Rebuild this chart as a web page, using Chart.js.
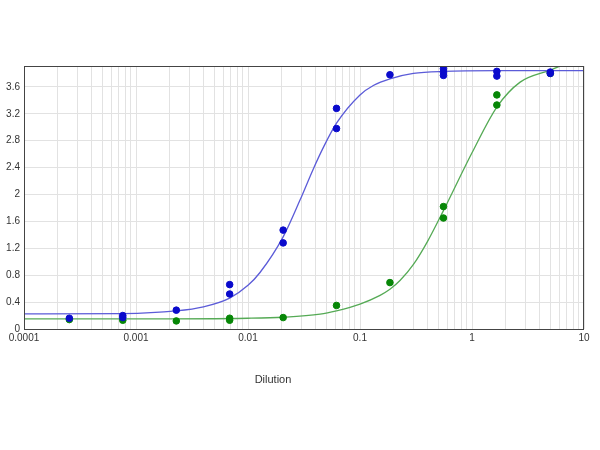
<!DOCTYPE html>
<html>
<head>
<meta charset="utf-8">
<script src="https://cdn.jsdelivr.net/npm/chart.js@4"></script>
<style>
html,body{margin:0;padding:0;background:#fff;}
#wrap{width:600px;height:450px;position:relative;}
</style>
</head>
<body>
<div id="wrap"><canvas id="c" width="600" height="450"></canvas></div>
<script>
// ---- tick labels ----
const xTickLabels = ['0.0001', '0.001', '0.01', '0.1', '1', '10'];
const yTickLabels = ['0', '0.4', '0.8', '1.2', '1.6', '2', '2.4', '2.8', '3.2', '3.6'];
const xAxisTitle = 'Dilution';

// ---- measured points (blue series) ----
const blueDilution = [0.000254, 0.000762, 0.000762, 0.00229, 0.00686, 0.00686, 0.0206, 0.0206, 0.0617, 0.0617, 0.185, 0.556, 0.556, 0.556, 1.667, 1.667, 5, 5];
const blueOD       = [0.16,     0.20,     0.17,     0.28,    0.66,    0.52,    1.47,   1.28,   3.28,   2.98,   3.78,  3.87,  3.82,  3.77,  3.83,  3.76,  3.82, 3.80];

// ---- measured points (green series) ----
const greenDilution = [0.000254, 0.000762, 0.00229, 0.00686, 0.00686, 0.0206, 0.0617, 0.185, 0.556, 0.556, 1.667, 1.667, 5];
const greenOD       = [0.14,     0.13,     0.12,    0.16,    0.13,    0.17,   0.35,   0.69,  1.82,  1.65,  3.48,  3.33,  3.80];

// ---- fitted curves ----
const blueFitDilution = [0.0001, 0.000762, 0.00229, 0.004, 0.00686, 0.01, 0.0128, 0.0206, 0.0292, 0.0383, 0.0471, 0.0617, 0.1, 0.1315, 0.185, 0.3, 0.556, 1.667, 10];
const blueFitOD       = [0.225,  0.23,     0.27,    0.33,  0.46,    0.65, 0.84,   1.37,   1.92,   2.38,   2.70,   3.06,   3.48, 3.62,   3.72,  3.80, 3.83, 3.84,  3.84];

const greenFitDilution = [0.0001, 0.001, 0.01, 0.0206, 0.044, 0.0617, 0.1,  0.151, 0.185, 0.2275, 0.3,  0.4,  0.556, 1.0,  1.667, 2.69, 5,    7];
const greenFitOD       = [0.15,   0.15,  0.16, 0.175,  0.22,  0.27,   0.37, 0.50,  0.59,  0.72,   0.96, 1.30, 1.76,  2.62, 3.30,  3.67, 3.85, 3.95];

function pts(xs, ys) { return xs.map((x, i) => ({ x: x, y: ys[i] })); }

const decadeValues = xTickLabels.map(parseFloat);

const framePlugin = {
  id: 'frame',
  afterDraw(chart) {
    const a = chart.chartArea, ctx = chart.ctx;
    ctx.save();
    ctx.strokeStyle = '#444';
    ctx.lineWidth = 1;
    ctx.strokeRect(a.left + 0.5, a.top + 0.5, a.right - a.left - 1, a.bottom - a.top);
    ctx.fillStyle = '#333';
    ctx.font = '11px "Liberation Sans", Arial, sans-serif';
    ctx.textAlign = 'center';
    ctx.textBaseline = 'middle';
    ctx.fillText(xAxisTitle, 273, 380);
    ctx.restore();
  }
};

new Chart(document.getElementById('c'), {
  type: 'scatter',
  data: {
    datasets: [
      { label: 'Blue', data: pts(blueDilution, blueOD), backgroundColor: '#0a0acc', borderColor: '#0a0acc',
        pointRadius: 3.3, borderWidth: 1, order: 0 },
      { label: 'Green', data: pts(greenDilution, greenOD), backgroundColor: '#078707', borderColor: '#078707',
        pointRadius: 3.3, borderWidth: 1, order: 1 },
      { type: 'line', label: 'Blue fit', data: pts(blueFitDilution, blueFitOD), borderColor: '#5b5bd8',
        borderWidth: 1.3, pointRadius: 0, fill: false, cubicInterpolationMode: 'monotone', order: 2 },
      { type: 'line', label: 'Green fit', data: pts(greenFitDilution, greenFitOD), borderColor: '#55aa55',
        borderWidth: 1.3, pointRadius: 0, fill: false, cubicInterpolationMode: 'monotone', order: 3 }
    ]
  },
  options: {
    responsive: false,
    animation: false,
    devicePixelRatio: 1,
    layout: { padding: { top: 66, right: 16, bottom: 0, left: 0 } },
    plugins: { legend: { display: false }, tooltip: { enabled: false } },
    scales: {
      x: {
        type: 'logarithmic',
        min: 0.0001,
        max: 10,
        border: { display: false },
        grid: { color: '#e2e2e2', drawTicks: false, lineWidth: 1 },
        afterBuildTicks(scale) {
          const t = [];
          decadeValues.forEach((d, i) => {
            t.push({ value: d });
            if (i < decadeValues.length - 1) {
              for (let m = 2; m <= 9; m++) t.push({ value: d * m });
            }
          });
          scale.ticks = t;
        },
        afterFit(scale) { scale.height = 121; },
        ticks: {
          autoSkip: false, maxRotation: 0, padding: 3,
          color: '#333',
          font: { size: 10, family: '"Liberation Sans", Arial, sans-serif' },
          callback(value) {
            const idx = decadeValues.findIndex(d => Math.abs(d - value) / d < 1e-6);
            return idx >= 0 ? xTickLabels[idx] : '';
          }
        }
      },
      y: {
        type: 'linear',
        min: 0,
        max: 3.91,
        border: { display: false },
        grid: { color: '#e2e2e2', drawTicks: false, lineWidth: 1 },
        afterBuildTicks(scale) {
          scale.ticks = yTickLabels.map(v => ({ value: parseFloat(v) }));
        },
        afterFit(scale) { scale.width = 24; },
        ticks: {
          autoSkip: false, padding: 4,
          color: '#333',
          font: { size: 10, family: '"Liberation Sans", Arial, sans-serif' },
          callback(value, index) { return yTickLabels[index]; }
        }
      }
    }
  },
  plugins: [framePlugin]
});
</script>
</body>
</html>
